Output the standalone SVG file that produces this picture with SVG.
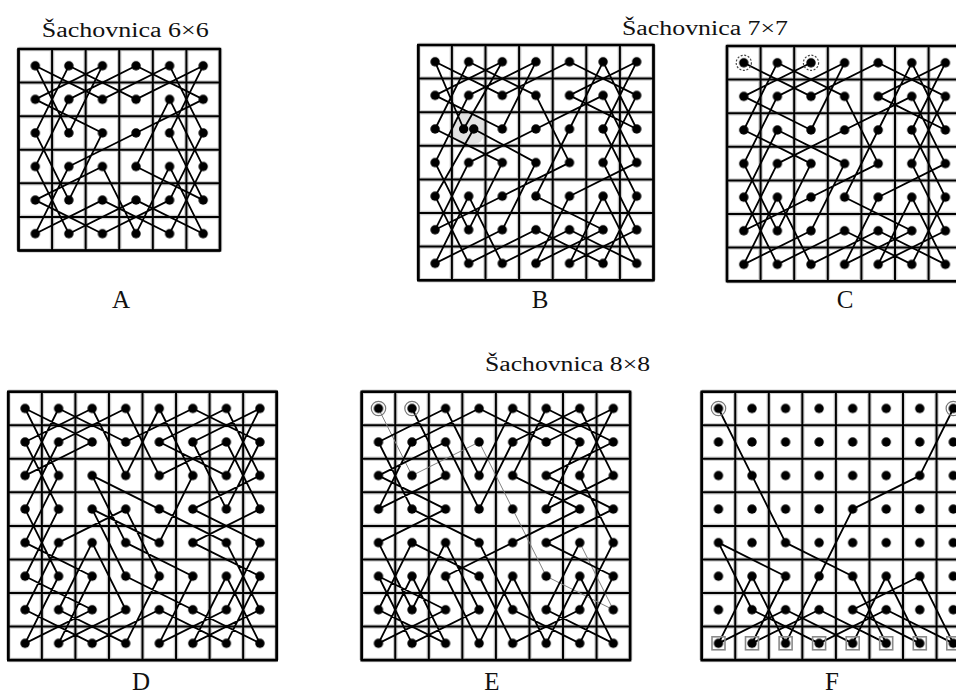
<svg xmlns="http://www.w3.org/2000/svg" width="956" height="694" viewBox="0 0 956 694">
<style>
  text { font-family: "Liberation Serif", "Times New Roman", serif; fill: #111; }
  .title { font-size: 20px; }
  .lab { font-size: 25px; text-anchor: middle; }
  .gu { fill: none; stroke: #cfcfcf; stroke-width: 4.5; vector-effect: non-scaling-stroke; }
  .gl { fill: none; stroke: #000; stroke-width: 2; vector-effect: non-scaling-stroke; }
  .go { fill: none; stroke: #000; stroke-width: 2.6; vector-effect: non-scaling-stroke; }
  .tour { fill: none; stroke: #000; stroke-width: 1.8; stroke-linejoin: round; stroke-linecap: round; vector-effect: non-scaling-stroke; }
  .thin { fill: none; stroke: #808080; stroke-width: 1; stroke-linejoin: round; vector-effect: non-scaling-stroke; }
  .dots { fill: url(#dotp); }
  .hl { fill: #e2e2e2; }
  .ring { fill: none; stroke: #777; stroke-width: 1.2; }
  .dash { stroke: #444; stroke-dasharray: 2 1.6; }
  .sq { fill: none; stroke: #8a8a8a; stroke-width: 1.6; }
</style>
<defs>
  <pattern id="dotp" patternUnits="userSpaceOnUse" width="1" height="1">
    <circle cx="0.5" cy="0.5" r="0.14" fill="#000"/>
  </pattern>
</defs>
<rect width="956" height="694" fill="#fff"/>

<text class="title" x="41.7" y="36.5" textLength="167" lengthAdjust="spacingAndGlyphs">Šachovnica 6×6</text>
<text class="title" x="622" y="35" textLength="166" lengthAdjust="spacingAndGlyphs">Šachovnica 7×7</text>
<text class="title" x="485" y="371" textLength="165" lengthAdjust="spacingAndGlyphs">Šachovnica 8×8</text>

<!-- Board A 6x6 -->
<g id="board-A" transform="translate(18.5 49) scale(33.58)">
  <path class="gu" d="M0 0H6M0 1H6M0 2H6M0 3H6M0 4H6M0 5H6M0 6H6M0 0V6M1 0V6M2 0V6M3 0V6M4 0V6M5 0V6M6 0V6"/>
  <path class="gl" d="M0 0H6M0 1H6M0 2H6M0 3H6M0 4H6M0 5H6M0 6H6M0 0V6M1 0V6M2 0V6M3 0V6M4 0V6M5 0V6M6 0V6"/>
  <rect class="go" width="6" height="6"/>
  <g id="A-connectors">
    <polygon class="tour" points="0.5,0.5 2.5,1.5 4.5,0.5 5.5,2.5 4.5,4.5 2.5,5.5 0.5,4.5 2.5,3.5 3.5,5.5 4.5,3.5 5.5,5.5 3.5,4.5 1.5,5.5 0.5,3.5 1.5,1.5 3.5,0.5 5.5,1.5 3.5,2.5 1.5,3.5 0.5,5.5 2.5,4.5 4.5,5.5 5.5,3.5 4.5,1.5 3.5,3.5 5.5,4.5 4.5,2.5 5.5,0.5 3.5,1.5 1.5,0.5 0.5,2.5 1.5,4.5 2.5,2.5 0.5,1.5 2.5,0.5 1.5,2.5"/>
  </g>
  <rect class="dots" width="6" height="6"/>
</g>
<text class="lab" x="121" y="308">A</text>

<!-- Board B 7x7 -->
<g id="board-B" transform="translate(418.3 45) scale(33.6)">
  <rect class="hl" x="1.05" y="2.05" width="0.9" height="0.9" rx="0.3"/>
  <path class="gu" d="M0 0H7M0 1H7M0 2H7M0 3H7M0 4H7M0 5H7M0 6H7M0 7H7M0 0V7M1 0V7M2 0V7M3 0V7M4 0V7M5 0V7M6 0V7M7 0V7"/>
  <path class="gl" d="M0 0H7M0 1H7M0 2H7M0 3H7M0 4H7M0 5H7M0 6H7M0 7H7M0 0V7M1 0V7M2 0V7M3 0V7M4 0V7M5 0V7M6 0V7M7 0V7"/>
  <rect class="go" width="7" height="7"/>
  <g id="B-connectors">
    <polygon class="tour" points="0.5,0.5 2.5,1.5 4.5,0.5 6.5,1.5 5.5,3.5 6.5,5.5 4.5,6.5 5.5,4.5 6.5,6.5 4.5,5.5 2.5,6.5 1.5,4.5 0.5,6.5 2.5,5.5 3.5,3.5 1.65,2.5 0.5,4.5 1.5,6.5 3.5,5.5 5.5,6.5 6.5,4.5 5.5,2.5 6.5,0.5 4.5,1.5 6.5,2.5 5.5,0.5 4.5,2.5 3.5,4.5 5.5,5.5 3.5,6.5 4.5,4.5 6.5,3.5 5.5,1.5 3.5,2.5 1.5,3.5 0.5,5.5 2.5,4.5 4.5,3.5 3.5,1.5 1.5,0.5 0.5,2.5 2.5,3.5 1.5,5.5 0.5,3.5 1.5,1.5 3.5,0.5 2.5,2.5 0.5,1.5 2.5,0.5 1.35,2.5"/>
  </g>
  <path class="dots" fill-rule="evenodd" d="M0 0H7V7H0Z M1 2V3H2V2Z"/>
  <circle cx="1.35" cy="2.5" r="0.14"/>
  <circle cx="1.65" cy="2.5" r="0.14"/>
</g>
<text class="lab" x="540" y="308">B</text>

<!-- Board C 7x7 -->
<g id="board-C" transform="translate(727 46) scale(33.6)">
  <path class="gu" d="M0 0H7M0 1H7M0 2H7M0 3H7M0 4H7M0 5H7M0 6H7M0 7H7M0 0V7M1 0V7M2 0V7M3 0V7M4 0V7M5 0V7M6 0V7M7 0V7"/>
  <path class="gl" d="M0 0H7M0 1H7M0 2H7M0 3H7M0 4H7M0 5H7M0 6H7M0 7H7M0 0V7M1 0V7M2 0V7M3 0V7M4 0V7M5 0V7M6 0V7M7 0V7"/>
  <rect class="go" width="7" height="7"/>
  <g id="C-connectors">
    <polyline class="tour" points="0.5,0.5 2.5,1.5 4.5,0.5 6.5,1.5 5.5,3.5 6.5,5.5 4.5,6.5 5.5,4.5 6.5,6.5 4.5,5.5 2.5,6.5 1.5,4.5 0.5,6.5 2.5,5.5 3.5,3.5 1.5,2.5 0.5,4.5 1.5,6.5 3.5,5.5 5.5,6.5 6.5,4.5 5.5,2.5 6.5,0.5 4.5,1.5 6.5,2.5 5.5,0.5 4.5,2.5 3.5,4.5 5.5,5.5 3.5,6.5 4.5,4.5 6.5,3.5 5.5,1.5 3.5,2.5 1.5,3.5 0.5,5.5 2.5,4.5 4.5,3.5 3.5,1.5 1.5,0.5 0.5,2.5 2.5,3.5 1.5,5.5 0.5,3.5 1.5,1.5 3.5,0.5 2.5,2.5 0.5,1.5 2.5,0.5"/>
  </g>
  <rect class="dots" width="7" height="7"/>
</g>
<g id="C-marks">
  <circle class="ring dash" cx="743.8" cy="62.8" r="7.6"/>
  <circle class="ring dash" cx="811" cy="62.8" r="7.6"/>
</g>
<text class="lab" x="845" y="308">C</text>

<!-- Board D 8x8 -->
<g id="board-D" transform="translate(8.3 391.7) scale(33.55)">
  <path class="gu" d="M0 0H8M0 1H8M0 2H8M0 3H8M0 4H8M0 5H8M0 6H8M0 7H8M0 8H8M0 0V8M1 0V8M2 0V8M3 0V8M4 0V8M5 0V8M6 0V8M7 0V8M8 0V8"/>
  <path class="gl" d="M0 0H8M0 1H8M0 2H8M0 3H8M0 4H8M0 5H8M0 6H8M0 7H8M0 8H8M0 0V8M1 0V8M2 0V8M3 0V8M4 0V8M5 0V8M6 0V8M7 0V8M8 0V8"/>
  <rect class="go" width="8" height="8"/>
  <g id="D-connectors">
    <polygon class="tour" points="0.5,0.5 2.5,1.5 0.5,2.5 1.5,0.5 3.5,1.5 5.5,0.5 7.5,1.5 6.5,3.5 5.5,1.5 7.5,0.5 6.5,2.5 4.5,1.5 6.5,0.5 7.5,2.5 5.5,3.5 7.5,4.5 6.5,6.5 4.5,7.5 5.5,5.5 3.5,4.5 2.5,2.5 4.5,3.5 6.5,4.5 7.5,6.5 5.5,7.5 6.5,5.5 7.5,7.5 5.5,6.5 3.5,5.5 2.5,3.5 4.5,4.5 5.5,2.5 4.5,0.5 3.5,2.5 2.5,0.5 0.5,1.5 1.5,3.5 0.5,5.5 2.5,6.5 0.5,7.5 1.5,5.5 0.5,3.5 1.5,1.5 3.5,0.5 4.5,2.5 6.5,1.5 7.5,3.5 5.5,4.5 7.5,5.5 6.5,7.5 4.5,6.5 2.5,7.5 0.5,6.5 1.5,4.5 3.5,3.5 4.5,5.5 3.5,7.5 1.5,6.5 2.5,4.5 3.5,6.5 1.5,7.5 2.5,5.5 0.5,4.5 1.5,2.5"/>
  </g>
  <rect class="dots" width="8" height="8"/>
</g>
<text class="lab" x="141" y="690">D</text>

<!-- Board E 8x8 -->
<g id="board-E" transform="translate(361.7 391.7) scale(33.55)">
  <path class="gu" d="M0 0H8M0 1H8M0 2H8M0 3H8M0 4H8M0 5H8M0 6H8M0 7H8M0 8H8M0 0V8M1 0V8M2 0V8M3 0V8M4 0V8M5 0V8M6 0V8M7 0V8M8 0V8"/>
  <path class="gl" d="M0 0H8M0 1H8M0 2H8M0 3H8M0 4H8M0 5H8M0 6H8M0 7H8M0 8H8M0 0V8M1 0V8M2 0V8M3 0V8M4 0V8M5 0V8M6 0V8M7 0V8M8 0V8"/>
  <rect class="go" width="8" height="8"/>
  <g id="E-connectors">
    <polyline class="thin" points="6.5,4.5 7.5,6.5 5.5,5.5 4.5,3.5 3.5,1.5 1.5,2.5 0.5,0.5"/>
    <polyline class="tour" points="1.5,0.5 2.5,2.5 0.5,3.5 1.5,1.5 3.5,0.5 5.5,1.5 7.5,0.5 6.5,2.5 7.5,4.5 6.5,6.5 4.5,7.5 3.5,5.5 1.5,4.5 0.5,6.5 2.5,7.5 1.5,5.5 0.5,7.5 2.5,6.5 0.5,5.5 1.5,7.5 3.5,6.5 2.5,4.5 1.5,6.5 0.5,4.5 2.5,3.5 0.5,2.5 2.5,1.5 3.5,3.5 4.5,1.5 6.5,0.5 7.5,2.5 5.5,3.5 6.5,1.5 4.5,0.5 3.5,2.5 2.5,0.5 0.5,1.5 1.5,3.5 3.5,4.5 4.5,6.5 6.5,7.5 7.5,5.5 5.5,4.5 7.5,3.5 5.5,2.5 7.5,1.5 5.5,0.5 4.5,2.5 6.5,3.5 4.5,4.5 2.5,5.5 3.5,7.5 4.5,5.5 5.5,7.5 6.5,5.5 7.5,7.5 5.5,6.5 6.5,4.5"/>
  </g>
  <rect class="dots" width="8" height="8"/>
</g>
<g id="E-marks">
  <circle class="ring" cx="378.5" cy="408.5" r="7.2"/>
  <circle class="ring" cx="412" cy="408.5" r="7.2"/>
</g>
<text class="lab" x="492" y="690">E</text>

<!-- Board F 8x8 -->
<g id="board-F" transform="translate(701.7 391.7) scale(33.55)">
  <path class="gu" d="M0 0H8M0 1H8M0 2H8M0 3H8M0 4H8M0 5H8M0 6H8M0 7H8M0 8H8M0 0V8M1 0V8M2 0V8M3 0V8M4 0V8M5 0V8M6 0V8M7 0V8M8 0V8"/>
  <path class="gl" d="M0 0H8M0 1H8M0 2H8M0 3H8M0 4H8M0 5H8M0 6H8M0 7H8M0 8H8M0 0V8M1 0V8M2 0V8M3 0V8M4 0V8M5 0V8M6 0V8M7 0V8M8 0V8"/>
  <rect class="go" width="8" height="8"/>
  <g id="F-connectors">
    <polyline class="tour" points="0.5,0.5 1.5,2.5 2.5,4.5 4.5,5.5 5.5,7.5 3.5,6.5 1.5,7.5 2.5,5.5 0.5,4.5 1.5,6.5 3.5,7.5 5.5,6.5 7.5,7.5 6.5,5.5 4.5,6.5 6.5,7.5 5.5,5.5 4.5,7.5 2.5,6.5 0.5,7.5 1.5,5.5 2.5,7.5 3.5,5.5 4.5,3.5 6.5,2.5 7.5,0.5"/>
  </g>
  <rect class="dots" width="8" height="8"/>
</g>
<g id="F-marks">
  <circle class="ring" cx="718.5" cy="408.5" r="7.2"/>
  <circle class="ring" cx="953.3" cy="408.5" r="7.2"/>
  <rect class="sq" x="712" y="636.8" width="13" height="13"/>
  <rect class="sq" x="745.5" y="636.8" width="13" height="13"/>
  <rect class="sq" x="779.1" y="636.8" width="13" height="13"/>
  <rect class="sq" x="812.6" y="636.8" width="13" height="13"/>
  <rect class="sq" x="846.2" y="636.8" width="13" height="13"/>
  <rect class="sq" x="879.7" y="636.8" width="13" height="13"/>
  <rect class="sq" x="913.3" y="636.8" width="13" height="13"/>
  <rect class="sq" x="946.8" y="636.8" width="13" height="13"/>
</g>
<text class="lab" x="832" y="690">F</text>
</svg>
